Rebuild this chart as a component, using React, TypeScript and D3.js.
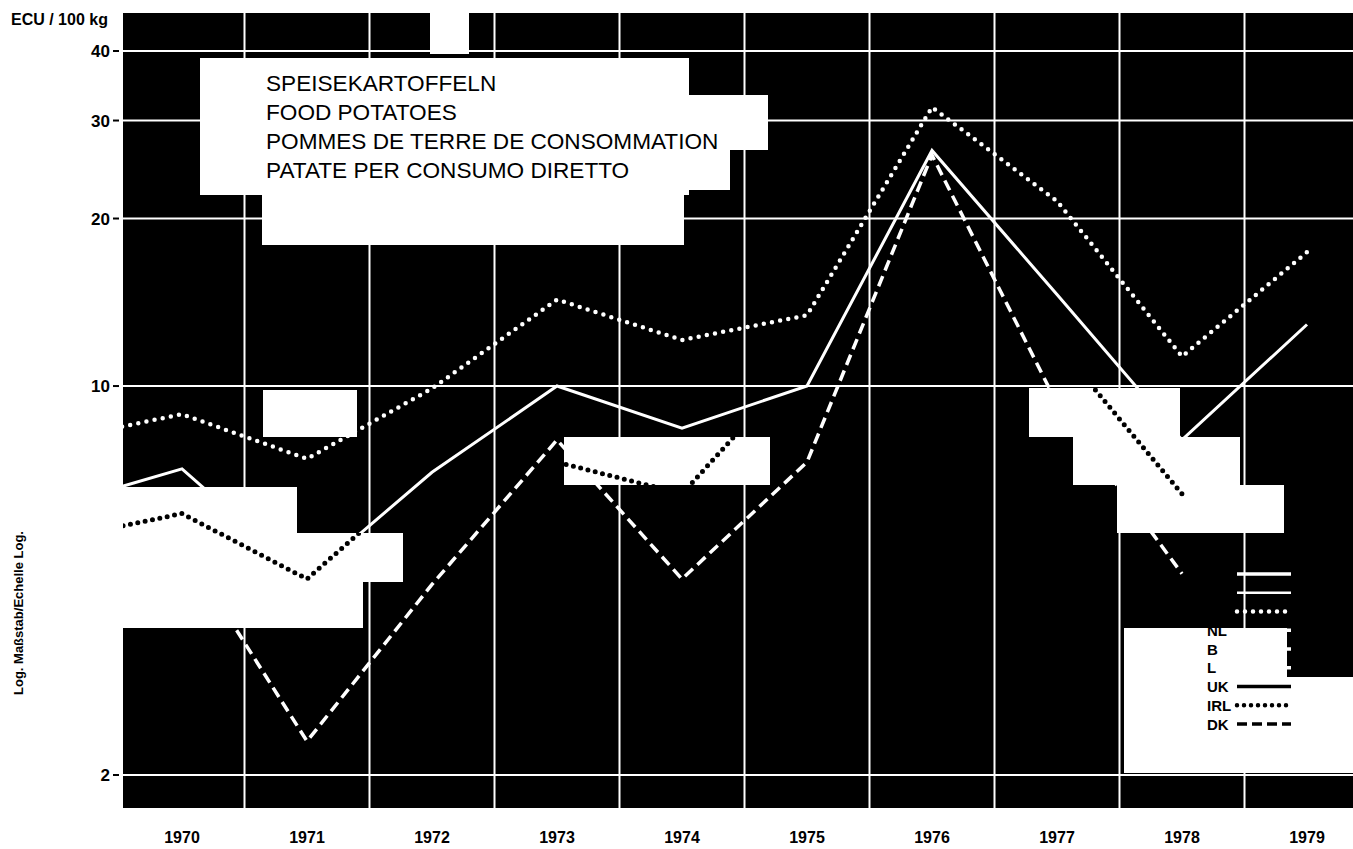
import React from 'react';
import * as d3 from 'd3';

// ---- data (ECU / 100 kg, log scale) ----
const years = [1969, 1970, 1971, 1972, 1973, 1974, 1975, 1976, 1977, 1978, 1979];
const seriesD: (number | null)[] = [6.1, 7.1, 4.5, 7.0, 10.0, 8.4, 10.0, 26.5, 14.6, 8.0, 12.9];
const seriesI: (number | null)[] = [8.0, 8.9, 7.4, 9.9, 14.3, 12.1, 13.4, 31.7, 21.5, 11.3, 17.4];
const seriesNL: (number | null)[] = [null, 5.2, 2.3, 4.4, 8.0, 4.5, 7.3, 26.0, 9.3, 4.6, null];
const seriesIRL: (number | null)[] = [5.3, 5.9, 4.5, 7.1, 7.3, 6.4, 11.3, null, 11.9, 6.4, null];

const yTicks = [2, 10, 20, 30, 40];
const yearLabels = ['1970', '1971', '1972', '1973', '1974', '1975', '1976', '1977', '1978', '1979'];
const gridYears = [1970.5, 1971.5, 1972.5, 1973.5, 1974.5, 1975.5, 1976.5, 1977.5, 1978.5];
const legendNames = ['D', 'F', 'I', 'NL', 'B', 'L', 'UK', 'IRL', 'DK'];
const titleLines = [
  'SPEISEKARTOFFELN',
  'FOOD POTATOES',
  'POMMES DE TERRE DE CONSOMMATION',
  'PATATE PER CONSUMO DIRETTO',
];

// light (erased) areas of the scanned plot, in data units: [yearFrom, yearTo, valueTop, valueBottom]
const patches: [number, number, number, number][] = [
  [1970.14, 1974.06, 38.9, 22.0],
  [1974.06, 1974.69, 33.3, 26.6],
  [1974.06, 1974.38, 26.6, 22.5],
  [1970.64, 1974.02, 22.0, 17.9],
  [1971.98, 1972.3, 46.8, 39.5],
  [1970.65, 1971.4, 9.84, 8.1],
  [1969.4, 1970.92, 6.59, 5.44],
  [1969.4, 1971.77, 5.44, 4.44],
  [1969.4, 1971.45, 4.44, 3.67],
  [1973.06, 1974.7, 8.1, 6.64],
  [1976.78, 1977.98, 9.92, 8.1],
  [1977.13, 1978.46, 8.1, 6.64],
  [1977.48, 1978.82, 6.64, 5.44],
  [1977.54, 1978.84, 3.67, 2.02],
  [1978.84, 1979.7, 3.0, 2.02],
];

const FONT = '"Liberation Sans", Arial, Helvetica, sans-serif';

type Style = { stroke: string; width: number; dash?: string; cap?: 'round' | 'butt' };
const legendStyles: Style[] = [
  { stroke: '#fff', width: 3.5 },
  { stroke: '#fff', width: 2.5 },
  { stroke: '#fff', width: 4.5, dash: '0 8', cap: 'round' },
  { stroke: '#fff', width: 3.5, dash: '10 5' },
  { stroke: '#fff', width: 3.5, dash: '8 4' },
  { stroke: '#fff', width: 3.5, dash: '8 4' },
  { stroke: '#000', width: 3.5 },
  { stroke: '#000', width: 4.5, dash: '0 7', cap: 'round' },
  { stroke: '#000', width: 3.5, dash: '10 5' },
];

export default function App() {
  const W = 1353;
  const H = 849;
  const plot = { left: 123, right: 1353, top: 13, bottom: 808 };
  const x = d3.scaleLinear().domain([1969.5, 1979.5]).range([119.5, 1369.5]);
  const y = d3.scaleLog().domain([2, 40]).range([775, 51]);

  const mk = (vals: (number | null)[]) =>
    d3
      .line<number | null>()
      .defined((v) => v != null)
      .x((_, i) => x(years[i]))
      .y((v) => y(v as number))(vals) || '';

  const patchRect = (p: [number, number, number, number]) => {
    const x0 = Math.round(x(p[0]));
    const x1 = Math.round(x(p[1]));
    const y0 = Math.round(y(p[2]));
    const y1 = Math.round(y(p[3]));
    return { x: x0, y: y0, width: x1 - x0, height: y1 - y0 };
  };

  const legendX0 = 1237;
  const legendX1 = 1291;
  const legendY0 = 574;
  const legendStep = 18.75;

  const legendLine = (s: Style, i: number) => (
    <line
      key={'lg' + i}
      x1={legendX0}
      x2={legendX1}
      y1={legendY0 + i * legendStep}
      y2={legendY0 + i * legendStep}
      stroke={s.stroke}
      strokeWidth={s.width}
      strokeDasharray={s.dash}
      strokeLinecap={s.cap || 'butt'}
    />
  );

  return (
    <div style={{ position: 'absolute', left: 0, top: 0 }}>
      <svg width={W} height={H} style={{ display: 'block', background: '#fff' }}>
        <defs>
          <clipPath id="plotClip">
            <rect x={plot.left} y={plot.top} width={plot.right - plot.left} height={plot.bottom - plot.top} />
          </clipPath>
          <clipPath id="patchClip">
            {patches.map((p, i) => (
              <rect key={'pc' + i} {...patchRect(p)} />
            ))}
          </clipPath>
        </defs>
        <rect x={plot.left} y={plot.top} width={plot.right - plot.left} height={plot.bottom - plot.top} fill="#000" />
        <g clipPath="url(#plotClip)">
          {yTicks.map((t) => (
            <line key={'h' + t} x1={plot.left} x2={plot.right} y1={y(t)} y2={y(t)} stroke="#fff" strokeWidth={2} />
          ))}
          {gridYears.map((g) => (
            <line key={'v' + g} x1={x(g)} x2={x(g)} y1={plot.top} y2={plot.bottom} stroke="#fff" strokeWidth={2} />
          ))}
          <path d={mk(seriesD)} fill="none" stroke="#fff" strokeWidth={3} />
          <path d={mk(seriesI)} fill="none" stroke="#fff" strokeWidth={4.5} strokeDasharray="0 8.3" strokeLinecap="round" />
          <path d={mk(seriesNL)} fill="none" stroke="#fff" strokeWidth={3.5} strokeDasharray="11 6" />
          {legendStyles.slice(0, 6).map((s, i) => legendLine(s, i))}
        </g>
        {patches.map((p, i) => (
          <rect key={'p' + i} {...patchRect(p)} fill="#fff" shapeRendering="crispEdges" />
        ))}
        <g clipPath="url(#plotClip)">
          <g clipPath="url(#patchClip)">
            <path d={mk(seriesIRL)} fill="none" stroke="#000" strokeWidth={5} strokeDasharray="0 7.5" strokeLinecap="round" />
          </g>
          {legendStyles.slice(6).map((s, j) => legendLine(s, j + 6))}
          {legendNames.map((n, i) => (
            <text
              key={'ln' + i}
              x={1207}
              y={legendY0 + i * legendStep + 5.5}
              fontFamily={FONT}
              fontWeight="bold"
              fontSize={15}
              fill="#000"
            >
              {n}
            </text>
          ))}
        </g>
        {titleLines.map((t, i) => (
          <text key={'t' + i} x={266} y={91 + i * 29} fontFamily={FONT} fontSize={22.6} fill="#000">
            {t}
          </text>
        ))}
        {/* y axis */}
        {yTicks.map((t) => (
          <g key={'yt' + t}>
            <text x={110} y={y(t) + 6} textAnchor="end" fontFamily={FONT} fontWeight="bold" fontSize={17} fill="#000">
              {t}
            </text>
            <line x1={113} x2={119} y1={y(t)} y2={y(t)} stroke="#000" strokeWidth={2} />
          </g>
        ))}
        <text x={11} y={25} fontFamily={FONT} fontWeight="bold" fontSize={16} fill="#000">
          ECU / 100 kg
        </text>
        <text
          transform="translate(23,613) rotate(-90)"
          textAnchor="middle"
          fontFamily={FONT}
          fontWeight="bold"
          fontSize={13}
          fill="#000"
        >
          Log. Maßstab/Echelle Log.
        </text>
        {yearLabels.map((l, i) => (
          <text
            key={'x' + l}
            x={x(1970 + i)}
            y={843}
            textAnchor="middle"
            fontFamily={FONT}
            fontWeight="bold"
            fontSize={16}
            fill="#000"
          >
            {l}
          </text>
        ))}
      </svg>
    </div>
  );
}
